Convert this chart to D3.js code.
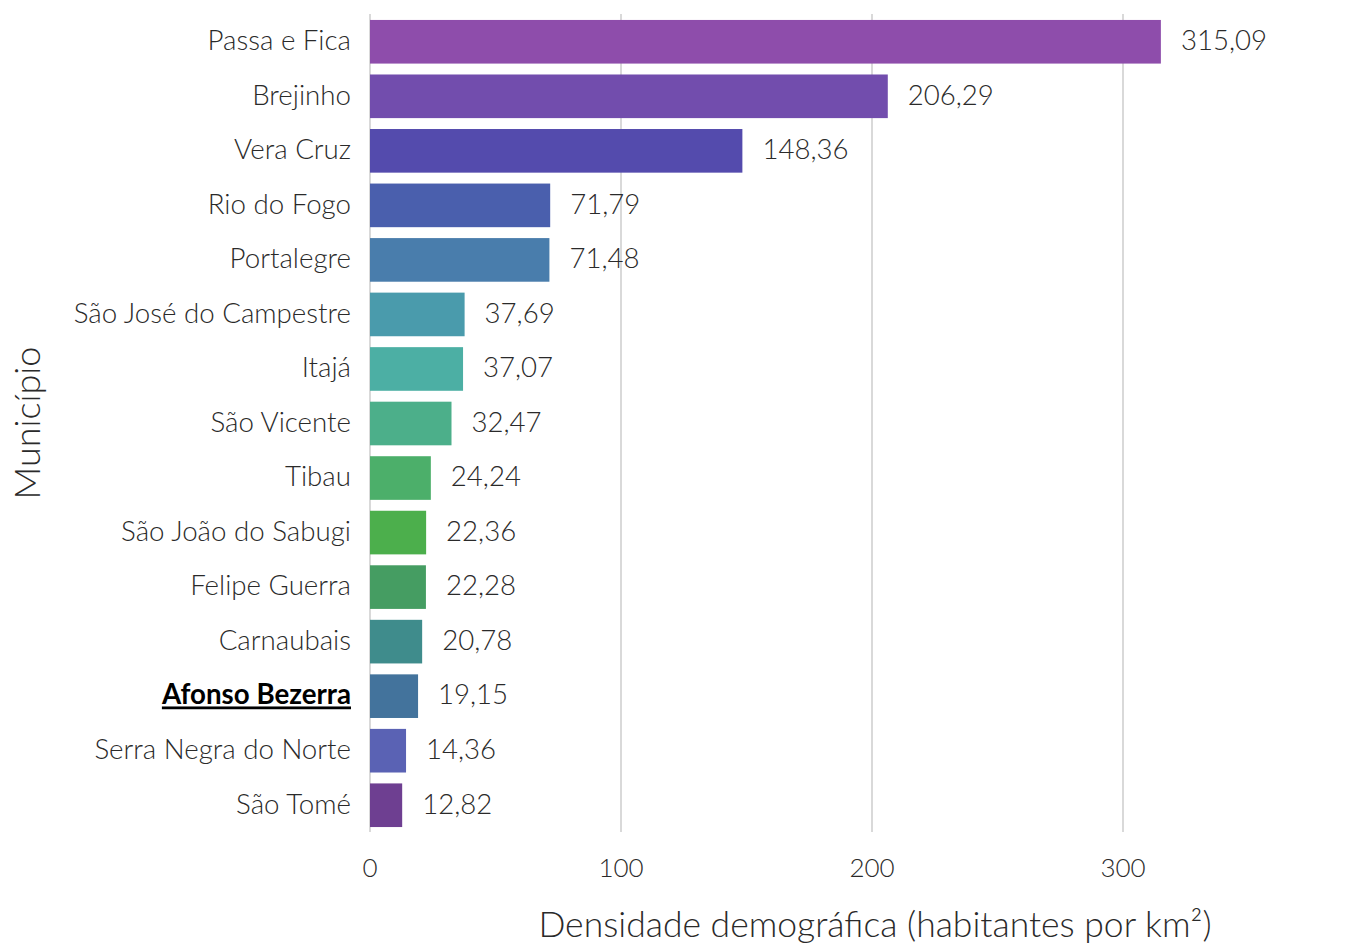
<!DOCTYPE html>
<html><head><meta charset="utf-8">
<script src="https://cdn.jsdelivr.net/npm/d3@7"></script>
<style>
body{margin:0;background:#fff;}
svg text{font-family:Lato,"Noto Sans",sans-serif;font-weight:300;}
</style></head>
<body>
<svg id="c" width="1364" height="943"></svg>
<script>
const categories = ["Passa e Fica","Brejinho","Vera Cruz","Rio do Fogo","Portalegre","São José do Campestre","Itajá","São Vicente","Tibau","São João do Sabugi","Felipe Guerra","Carnaubais","Afonso Bezerra","Serra Negra do Norte","São Tomé"];
const values = [315.09,206.29,148.36,71.79,71.48,37.69,37.07,32.47,24.24,22.36,22.28,20.78,19.15,14.36,12.82];
const colors = ["#8E4DAB","#724DAD","#544BAD","#4A5FAD","#497DAC","#4A9BAC","#4CAFA4","#4CAF8A","#4CAF6A","#4CAF4C","#459D62","#3F8C8C","#43739C","#5A62B4","#6E3F91"];
const xTicks = [0,100,200,300];
const highlight = "Afonso Bezerra";
const xTitle = "Densidade demográfica (habitantes por km²)";
const yTitle = "Município";

const svg = d3.select("#c");
const x = d3.scaleLinear().domain([0,400]).range([370,1374]);
const y = d3.scaleBand().domain(categories).range([14.5,832.5]).paddingInner(0.2).paddingOuter(0.1);
const fmt = v => d3.format(".2f")(v).replace(".",",");
const txt = "#2a2a2a";

// grid
svg.append("g").selectAll("line").data(xTicks).join("line")
  .attr("x1",d=>x(d)).attr("x2",d=>x(d)).attr("y1",14).attr("y2",832)
  .attr("stroke","#d9d9d9").attr("stroke-width",2);

// bars
svg.append("g").selectAll("rect").data(categories).join("rect")
  .attr("x",x(0)).attr("y",d=>y(d))
  .attr("width",(d,i)=>x(values[i])-x(0)).attr("height",y.bandwidth())
  .attr("fill",(d,i)=>colors[i]);

// value labels
svg.append("g").selectAll("text").data(categories).join("text")
  .attr("x",(d,i)=>x(values[i])+20).attr("y",d=>y(d)+y.bandwidth()/2)
  .attr("dy","0.3em").attr("font-size",27.6).attr("fill",txt)
  .text((d,i)=>fmt(values[i]));

// category labels
svg.append("g").selectAll("text").data(categories).join("text")
  .attr("x",351).attr("y",d=>y(d)+y.bandwidth()/2)
  .attr("dy","0.3em").attr("text-anchor","end").attr("font-size",27.7)
  .attr("fill",d=>d===highlight?"#000":txt)
  .style("font-weight",d=>d===highlight?700:300)
  .style("text-decoration",d=>d===highlight?"underline":"none")
  .text(d=>d);

// x tick labels
svg.append("g").selectAll("text").data(xTicks).join("text")
  .attr("x",d=>x(d)).attr("y",868).attr("dy","0.35em")
  .attr("text-anchor","middle").attr("font-size",26).attr("fill",txt)
  .text(d=>d);

// titles
svg.append("text").attr("x",875).attr("y",937).attr("text-anchor","middle")
  .attr("font-size",35.5).attr("fill",txt).text(xTitle);
svg.append("text").attr("transform","translate(40,423) rotate(-90)")
  .attr("text-anchor","middle").attr("font-size",36).attr("fill",txt).text(yTitle);
</script>
</body></html>
